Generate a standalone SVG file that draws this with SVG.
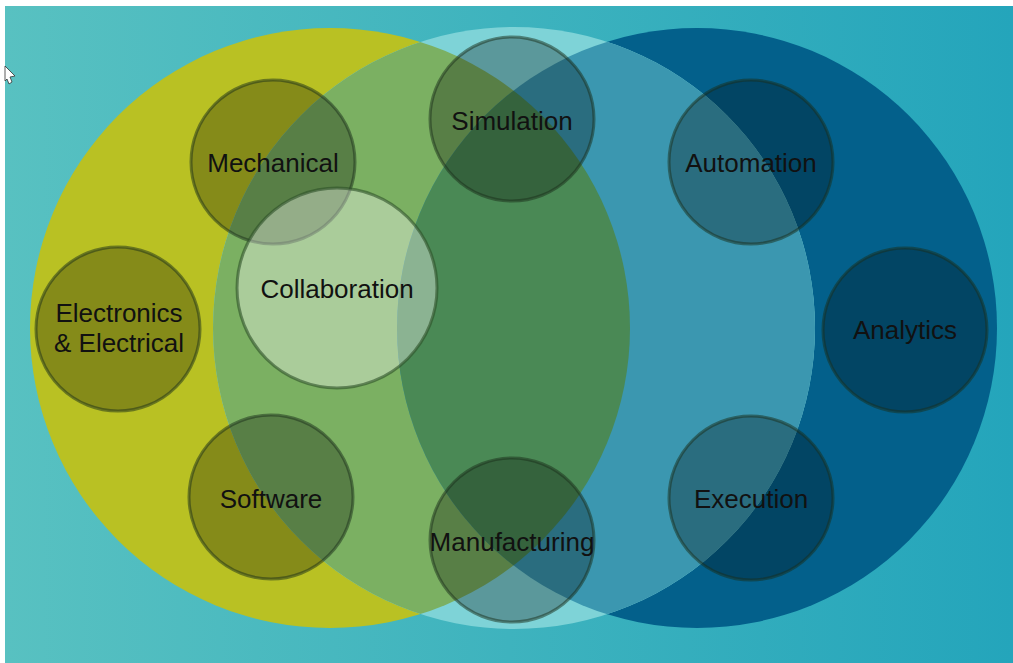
<svg xmlns="http://www.w3.org/2000/svg" width="1013" height="663" viewBox="0 0 1013 663">
  <defs>
    <linearGradient id="bg" x1="0" y1="0" x2="1" y2="0">
      <stop offset="0" stop-color="#58c1c1"/>
      <stop offset="1" stop-color="#24a5bb"/>
    </linearGradient>
    <clipPath id="clipA"><circle cx="330" cy="328" r="300"/></clipPath>
    <clipPath id="clipB"><circle cx="514" cy="328" r="301"/></clipPath>
    <style>
      .node { fill: rgba(0,0,0,0.28); stroke: rgba(25,45,25,0.5); stroke-width: 3; }
      .light { fill: rgba(255,255,255,0.36); stroke: rgba(45,80,40,0.6); stroke-width: 3; }
      .lbl { font-family: "Liberation Sans", Arial, sans-serif; font-size: 26px; fill: #111111; text-anchor: middle; }
    </style>
  </defs>

  <rect x="0" y="0" width="1013" height="663" fill="#ffffff"/>
  <rect x="5" y="6" width="1008" height="657" fill="url(#bg)"/>

  <g id="venn">
    <circle cx="697" cy="328" r="300" fill="#03608b"/>
    <circle cx="330" cy="328" r="300" fill="#b9c123"/>
    <circle cx="514" cy="328" r="301" fill="#7ed3d7"/>
    <circle cx="330" cy="328" r="300" fill="#7bb062" clip-path="url(#clipB)"/>
    <circle cx="697" cy="328" r="300" fill="#3b97b0" clip-path="url(#clipB)"/>
    <g clip-path="url(#clipA)">
      <circle cx="697" cy="328" r="300" fill="#4a8955" clip-path="url(#clipB)"/>
    </g>
  </g>

  <g id="cursor">
    <polygon points="5,66 15,76 10,77 12,82 9,84 7,79 5,81" fill="#ffffff" stroke="#333333" stroke-width="0.8"/>
  </g>

  <g id="connectors"></g>

  <g id="node-mechanical">
    <circle class="node" cx="273" cy="162" r="82"/>
    <text class="lbl" x="273" y="172">Mechanical</text>
  </g>
  <g id="node-simulation">
    <circle class="node" cx="512" cy="119" r="82"/>
    <text class="lbl" x="512" y="130">Simulation</text>
  </g>
  <g id="node-automation">
    <circle class="node" cx="751" cy="162" r="82"/>
    <text class="lbl" x="751" y="172">Automation</text>
  </g>
  <g id="node-electronics">
    <circle class="node" cx="118" cy="329" r="82"/>
    <text class="lbl" x="119" y="322">Electronics</text>
    <text class="lbl" x="119" y="352">&amp; Electrical</text>
  </g>
  <g id="node-analytics">
    <circle class="node" cx="905" cy="330" r="82"/>
    <text class="lbl" x="905" y="339">Analytics</text>
  </g>
  <g id="node-software">
    <circle class="node" cx="271" cy="497" r="82"/>
    <text class="lbl" x="271" y="508">Software</text>
  </g>
  <g id="node-manufacturing">
    <circle class="node" cx="512" cy="540" r="82"/>
    <text class="lbl" x="512" y="551">Manufacturing</text>
  </g>
  <g id="node-execution">
    <circle class="node" cx="751" cy="498" r="82"/>
    <text class="lbl" x="751" y="508">Execution</text>
  </g>
  <g id="node-collaboration">
    <circle class="light" cx="337" cy="288" r="100"/>
    <text class="lbl" x="337" y="298">Collaboration</text>
  </g>
</svg>
